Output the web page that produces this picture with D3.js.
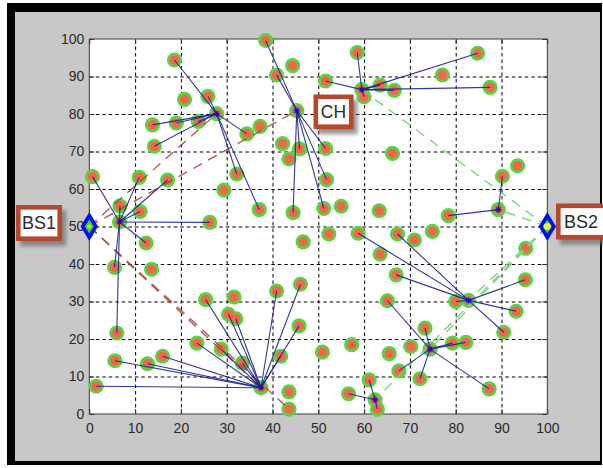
<!DOCTYPE html>
<html><head><meta charset="utf-8">
<script src="https://cdn.jsdelivr.net/npm/d3@7"></script>
<style>
html,body{margin:0;padding:0;background:#fff;}
svg{display:block;}
text{font-family:"Liberation Sans",Arial,Helvetica,sans-serif;}
</style>
</head><body>
<svg id="chart" width="603" height="468"></svg>
<script>
// ---------- DATA ----------
const xTicks = [0,10,20,30,40,50,60,70,80,90,100];
const yTicks = [0,10,20,30,40,50,60,70,80,90,100];
const tickLabels = ["0","10","20","30","40","50","60","70","80","90","100"];

// cluster heads
const headX = [6.6, 27.8, 45.3, 59.5, 89.3, 82.8, 74.4, 62.4, 37.5];
const headY = [51.2, 80.1, 80.9, 86.5, 54.5, 30.3, 17.3, 3.8, 7.0];

// members of each cluster (x, y)
const clusterA = [[0.7,63.3],[6.7,55.5],[11.1,54.0],[10.9,63.1],[17.1,62.4],[26.3,51.1],[12.4,45.6],[5.5,39.1],[6.0,21.6]];
const clusterB = [[18.6,94.4],[25.9,84.7],[13.8,77.1],[19.0,77.6],[23.8,78.0],[14.2,71.4],[34.4,74.7],[32.2,64.0],[37.1,54.5]];
const clusterC = [[38.5,99.6],[40.9,90.4],[44.5,53.7],[51.2,54.8],[51.8,62.5],[51.6,70.8],[45.9,70.7]];
const clusterD = [[58.5,96.4],[51.6,88.8],[63.5,87.7],[66.6,86.3],[84.8,96.2],[87.5,87.1],[60.0,84.6]];
const clusterE = [[90.2,63.4],[78.4,52.9]];
const clusterF = [[58.7,48.2],[67.3,48.0],[67.0,37.1],[80.0,30.0],[95.2,35.8],[93.2,27.4],[90.5,21.8]];
const clusterG = [[65.1,30.2],[73.3,22.9],[79.3,18.9],[82.2,19.1],[67.6,11.5],[72.2,9.4],[87.3,6.7]];
const clusterH = [[56.6,5.4],[61.1,9.1],[62.9,1.3]];
const clusterI = [[1.5,7.4],[5.6,14.2],[12.7,13.4],[16.0,15.4],[23.5,18.9],[28.8,17.3],[25.4,30.5],[30.4,26.6],[32.0,25.4],[33.4,13.6],[40.9,32.8],[46.1,34.6],[45.8,23.5],[41.8,15.4]];
const clusters = [clusterA, clusterB, clusterC, clusterD, clusterE, clusterF, clusterG, clusterH, clusterI];

// nodes not linked to a head
const freeNodes = [[44.4,92.9],[20.8,83.9],[37.3,76.7],[42.2,72.1],[43.6,68.0],[29.4,59.7],[13.6,38.6],[46.7,45.9],[55.0,55.4],[63.3,54.2],[52.3,48.0],[71.0,46.4],[74.9,48.7],[63.5,42.6],[95.3,44.2],[66.2,69.5],[93.5,66.2],[77.1,90.4],[57.3,18.5],[50.9,16.5],[65.5,16.1],[70.2,18.0],[43.6,5.9],[43.6,1.3],[31.6,31.2]];

// base stations
const stationNames = ["BS1","BS2"];
const stationX = [0, 100];
const stationY = [50, 50];

// dashed links: BS1 -> heads (red), BS2 -> heads (green)
const bs1Targets = [[27.8,80.1],[45.3,80.9],[37.5,7.0],[43.6,1.3]];
const bs2Targets = [[59.5,86.5],[89.3,54.5],[82.8,30.3],[74.4,17.3],[62.4,3.8]];

// ---------- DRAW ----------
const svg = d3.select("#chart");
const W = 603, H = 468;
const x = d3.scaleLinear().domain([0,100]).range([89.3, 547.3]);
const y = d3.scaleLinear().domain([0,100]).range([414, 39]);

// frame
svg.append("rect").attr("x",0).attr("y",0).attr("width",W).attr("height",H).attr("fill","#fff");
svg.append("rect").attr("x",7).attr("y",3).attr("width",595).attr("height",462).attr("fill","#000");
svg.append("rect").attr("x",15).attr("y",12).attr("width",585).attr("height",449).attr("fill","#c8c8c8");

const defs = svg.append("defs");
const f = defs.append("filter").attr("id","sh").attr("x","-30%").attr("y","-30%").attr("width","160%").attr("height","160%");
f.append("feGaussianBlur").attr("stdDeviation",2);

// plot area
svg.append("rect").attr("x",x(0)).attr("y",y(100)).attr("width",x(100)-x(0)).attr("height",y(0)-y(100)).attr("fill","#fff");

// grid
const grid = svg.append("g");
grid.append("g").attr("transform",`translate(0,${y(0)})`)
  .call(d3.axisBottom(x).tickValues(xTicks.slice(1,-1)).tickSize(-(y(0)-y(100))).tickFormat(""))
  .call(g=>g.select(".domain").remove())
  .call(g=>g.selectAll("line").attr("stroke","#000").attr("stroke-dasharray","3.5,3").attr("stroke-width",1));
grid.append("g").attr("transform",`translate(${x(0)},0)`)
  .call(d3.axisLeft(y).tickValues(yTicks.slice(1,-1)).tickSize(-(x(100)-x(0))).tickFormat(""))
  .call(g=>g.select(".domain").remove())
  .call(g=>g.selectAll("line").attr("stroke","#000").attr("stroke-dasharray","3.5,3").attr("stroke-width",1));

// inward ticks on all sides
function styleAxis(g){
  g.select(".domain").remove();
  g.selectAll("line").attr("stroke","#333");
  g.selectAll("text").attr("fill","#2a2a2a").style("font-size","14px");
}
svg.append("g").attr("transform",`translate(0,${y(0)})`)
  .call(d3.axisBottom(x).tickValues(xTicks).tickSize(-5).tickPadding(9).tickFormat((d,i)=>tickLabels[i]))
  .call(styleAxis);
svg.append("g").attr("transform",`translate(0,${y(100)})`)
  .call(d3.axisTop(x).tickValues(xTicks).tickSize(-5).tickFormat(""))
  .call(styleAxis);
svg.append("g").attr("transform",`translate(${x(0)},0)`)
  .call(d3.axisLeft(y).tickValues(yTicks).tickSize(-5).tickPadding(5).tickFormat((d,i)=>tickLabels[i]))
  .call(styleAxis);
svg.append("g").attr("transform",`translate(${x(100)},0)`)
  .call(d3.axisRight(y).tickValues(yTicks).tickSize(-5).tickFormat(""))
  .call(styleAxis);

// box
svg.append("rect").attr("x",x(0)).attr("y",y(100)).attr("width",x(100)-x(0)).attr("height",y(0)-y(100))
  .attr("fill","none").attr("stroke","#3a3a3a").attr("stroke-width",1);

// all nodes (heads + members + free)
const allNodes = [];
headX.forEach((hx,i)=>allNodes.push([hx, headY[i]]));
clusters.forEach(c=>c.forEach(p=>allNodes.push(p)));
freeNodes.forEach(p=>allNodes.push(p));

const nodeG = svg.append("g");
nodeG.selectAll("circle.o").data(allNodes).join("circle").attr("class","o")
  .attr("cx",d=>x(d[0])).attr("cy",d=>y(d[1])).attr("r",7.6).attr("fill","#58d443");
nodeG.selectAll("circle.i").data(allNodes).join("circle").attr("class","i")
  .attr("cx",d=>x(d[0])).attr("cy",d=>y(d[1])).attr("r",4.8).attr("fill","#f2674c");

// dashed links from base stations
const dashG = svg.append("g");
dashG.selectAll("line.r").data(bs1Targets).join("line").attr("class","r")
  .attr("x1",x(stationX[0])).attr("y1",y(stationY[0]))
  .attr("x2",d=>x(d[0])).attr("y2",d=>y(d[1]))
  .attr("stroke","#a8402f").attr("stroke-width",1.3).attr("stroke-dasharray","10,7").attr("opacity",0.9);
dashG.selectAll("line.g").data(bs2Targets).join("line").attr("class","g")
  .attr("x1",x(stationX[1])).attr("y1",y(stationY[1]))
  .attr("x2",d=>x(d[0])).attr("y2",d=>y(d[1]))
  .attr("stroke","#74d474").attr("stroke-width",1.3).attr("stroke-dasharray","10,7");

// member -> head links
const links = [];
clusters.forEach((c,i)=>c.forEach(p=>links.push({p, h:[headX[i],headY[i]]})));
svg.append("g").selectAll("line").data(links).join("line")
  .attr("x1",d=>x(d.p[0])).attr("y1",d=>y(d.p[1]))
  .attr("x2",d=>x(d.h[0])).attr("y2",d=>y(d.h[1]))
  .attr("stroke","#1b2590").attr("stroke-width",1.1).attr("opacity",0.9);

// head markers (small blue asterisks)
const hm = svg.append("g");
headX.forEach((hx,i)=>{
  const cx = x(hx), cy = y(headY[i]);
  [[-3,0,3,0],[0,-3,0,3],[-2.2,-2.2,2.2,2.2],[-2.2,2.2,2.2,-2.2]].forEach(s=>{
    hm.append("line").attr("x1",cx+s[0]).attr("y1",cy+s[1]).attr("x2",cx+s[2]).attr("y2",cy+s[3])
      .attr("stroke","#0a14c8").attr("stroke-width",1.2);
  });
});

// base station markers
stationX.forEach((sx,i)=>{
  const cx = x(sx), cy = y(stationY[i]);
  svg.append("path").attr("d",`M${cx},${cy-14.5}L${cx+8.7},${cy}L${cx},${cy+14.5}L${cx-8.7},${cy}Z`).attr("fill","#0011ee");
  svg.append("path").attr("d",`M${cx},${cy-7}L${cx+4.5},${cy}L${cx},${cy+7}L${cx-4.5},${cy}Z`).attr("fill","#3ed23a");
  svg.append("circle").attr("cx",cx).attr("cy",cy).attr("r", i===1?3.6:2).attr("fill", i===1?"#e8f23a":"#c6e83a");
});

// callout labels
const callouts = [
  {text:stationNames[0], x0:16, y0:205, w:46, h:36, fs:18},
  {text:"CH", x0:313.5, y0:94.5, w:40, h:34.5, fs:17.5},
  {text:stationNames[1], x0:556, y0:203.5, w:52, h:36, fs:18}
];
callouts.forEach(c=>{
  svg.append("rect").attr("x",c.x0+4).attr("y",c.y0+5).attr("width",c.w).attr("height",c.h)
    .attr("fill","#6a6a6a").attr("opacity",0.75).attr("filter","url(#sh)");
  svg.append("rect").attr("x",c.x0+2.3).attr("y",c.y0+2.3).attr("width",c.w-4.6).attr("height",c.h-4.6)
    .attr("fill","#fff").attr("stroke","#b5482f").attr("stroke-width",4.6);
  const tx = c.text==="BS2" ? c.x0+25 : c.x0+c.w/2;
  svg.append("text").attr("x",tx).attr("y",c.y0+c.h/2).attr("dy","0.36em")
    .attr("text-anchor","middle").attr("fill","#2b2b2b").style("font-size",c.fs+"px").text(c.text);
});
</script>
</body></html>
